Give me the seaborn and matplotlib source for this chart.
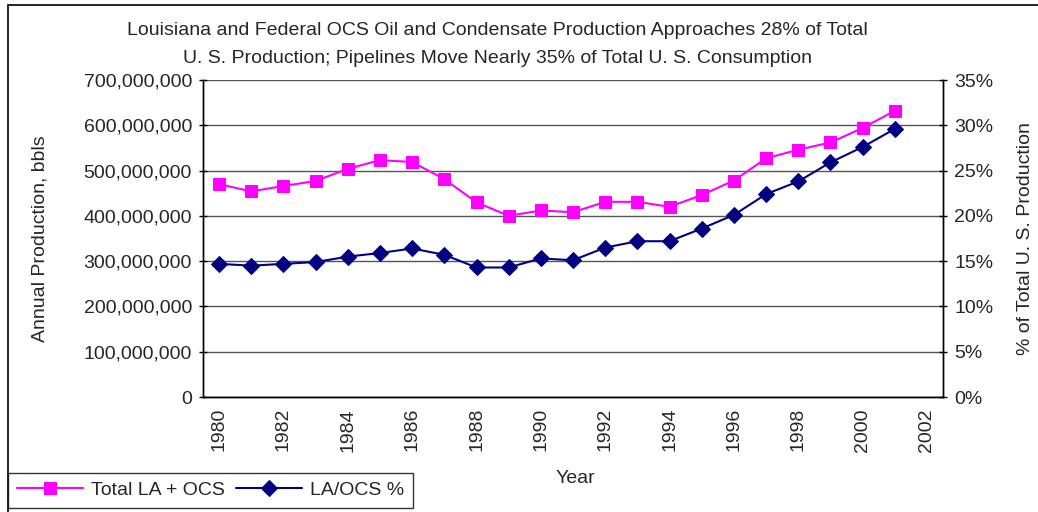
import numpy as np
import pandas as pd
import matplotlib.pyplot as plt
import seaborn as sns
from matplotlib.patches import Rectangle
from matplotlib.ticker import FuncFormatter, MultipleLocator, FixedLocator

years = list(range(1980, 2002))
total_la_ocs = [470e6, 454e6, 466e6, 477e6, 504e6, 523e6, 519e6, 481e6, 430e6, 400e6,
                412e6, 408e6, 431e6, 431e6, 420e6, 446e6, 478e6, 527e6, 546e6, 562e6,
                594e6, 632e6]
la_ocs_pct = [14.7, 14.5, 14.7, 14.9, 15.5, 15.9, 16.4, 15.7, 14.3, 14.3,
              15.3, 15.1, 16.5, 17.2, 17.2, 18.6, 20.1, 22.4, 23.8, 25.9,
              27.6, 29.6]
year_ticks = list(range(1980, 2003, 2))

df = pd.DataFrame({"year": years, "total": total_la_ocs, "pct": la_ocs_pct})

sns.set_style("white")
plt.rcParams["font.family"] = ["Liberation Sans", "DejaVu Sans"]
FS = 14

fig = plt.figure(figsize=(10.38, 5.12), dpi=100)
ax = fig.add_axes([0.1956, 0.2246, 0.9085 - 0.1956, 0.84375 - 0.2246])
ax2 = ax.twinx()

sns.lineplot(data=df, x="year", y="total", ax=ax, color="#ff00ff", marker="s",
             markersize=9, markeredgecolor="#ff00ff", linewidth=1.5,
             label="Total LA + OCS", legend=False)
sns.lineplot(data=df, x="year", y="pct", ax=ax2, color="#000080", marker="D",
             markersize=8, markeredgecolor="#000080", linewidth=1.5,
             label="LA/OCS %", legend=False)

ax.set_xlim(1979.5, 2002.5)
ax.set_ylim(0, 700e6)
ax2.set_ylim(0, 35)
ax.yaxis.set_major_locator(MultipleLocator(100e6))
ax2.yaxis.set_major_locator(MultipleLocator(5))
ax.yaxis.set_major_formatter(FuncFormatter(lambda v, p: f"{v:,.0f}"))
ax2.yaxis.set_major_formatter(FuncFormatter(lambda v, p: f"{v:.0f}%"))

ax.xaxis.set_major_locator(FixedLocator(year_ticks))
ax.xaxis.set_minor_locator(FixedLocator(np.arange(1979.5, 2003, 1)))
ax.tick_params(axis="x", which="major", length=0, labelsize=FS, labelrotation=90, pad=8)
ax.tick_params(axis="x", which="minor", length=5, width=1, direction="out", color="black")
ax.tick_params(axis="y", length=6, width=1, direction="inout", color="black", labelsize=FS, pad=5)
ax2.tick_params(axis="y", length=6, width=1, direction="inout", color="black", labelsize=FS, pad=5)

ax.grid(axis="y", color="#555555", linewidth=1)
ax.grid(axis="x", visible=False)
ax2.grid(False)
for a in (ax, ax2):
    a.spines["top"].set_visible(False)
    for s in ("left", "right", "bottom"):
        a.spines[s].set_color("black")
        a.spines[s].set_linewidth(1)

ax.set_xlabel("Year", fontsize=FS)
ax.set_ylabel("Annual Production, bbls", fontsize=FS, va="center")
ax2.set_ylabel("% of Total U. S. Production", fontsize=FS, rotation=90, va="center")
ax.xaxis.set_label_coords((575 - 203) / 740, -0.23)
ax.yaxis.set_label_coords((40 - 203) / 740, 0.5)
ax2.yaxis.set_label_coords((1025 - 203) / 740, 0.5)

fig.text(0.479, 0.958, "Louisiana and Federal OCS Oil and Condensate Production Approaches 28% of Total\n"
         "U. S. Production; Pipelines Move Nearly 35% of Total U. S. Consumption",
         ha="center", va="top", fontsize=FS, linespacing=1.9)

# outer chart border
fig.patches.append(Rectangle((8 / 1038, -0.1), 1.2, 1.09, transform=fig.transFigure,
                             fill=False, edgecolor="black", linewidth=1.2))

h1, l1 = ax.get_legend_handles_labels()
h2, l2 = ax2.get_legend_handles_labels()
leg = fig.legend(h1 + h2, l1 + l2, loc="lower left", bbox_to_anchor=(8 / 1038, 4 / 512),
                 ncol=2, fontsize=FS, frameon=True, fancybox=False, borderaxespad=0,
                 handlelength=3.4, columnspacing=0.6, handletextpad=0.4, borderpad=0.45)
leg.get_frame().set_edgecolor("black")
leg.get_frame().set_linewidth(1)

fig.savefig("out.png", dpi=100)
